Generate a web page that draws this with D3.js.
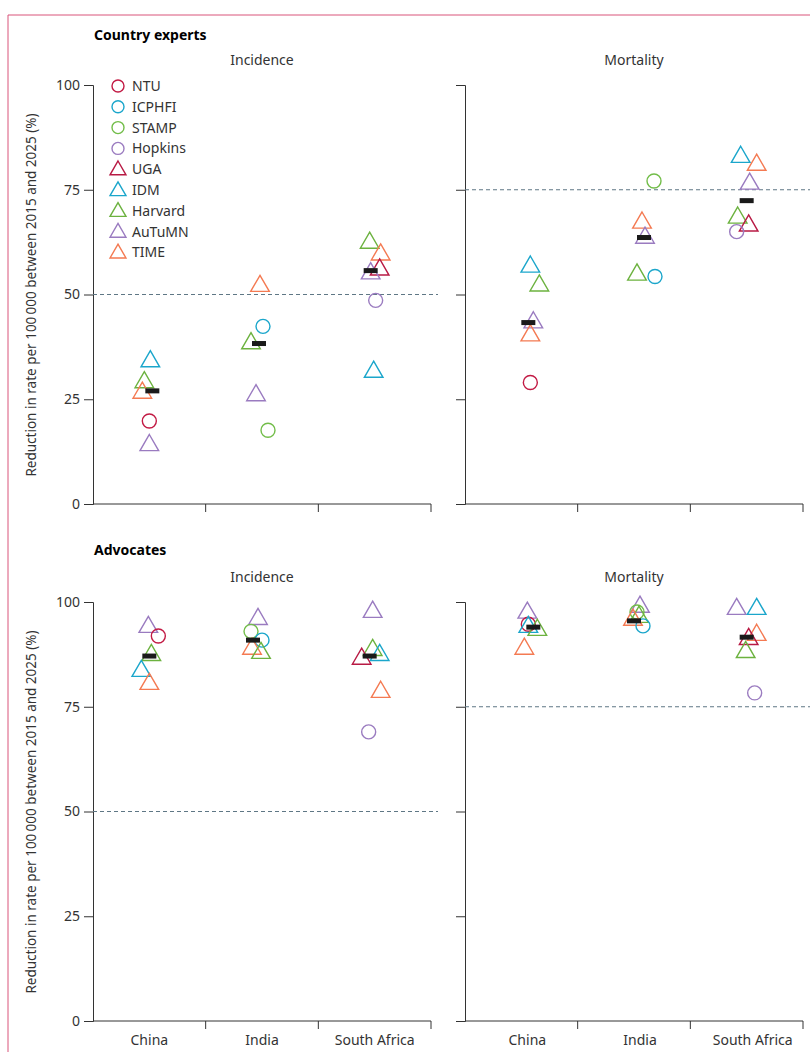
<!DOCTYPE html>
<html><head><meta charset="utf-8">
<script src="https://cdn.jsdelivr.net/npm/d3@7"></script>
<style>body{margin:0;background:#fff}text{font-family:"Noto Sans",sans-serif}</style>
</head><body>
<script>
var countries = ["China", "India", "South Africa"];
var models = ["NTU", "ICPHFI", "STAMP", "Hopkins", "UGA", "IDM", "Harvard", "AuTuMN", "TIME"];
var modelColors = ["#c21a44", "#1ba6cb", "#72bd49", "#9b7cc0", "#b81a44", "#1ba6cb", "#6cb23f", "#9a7bc0", "#f47a52"];
var modelShapes = ["circle", "circle", "circle", "circle", "triangle", "triangle", "triangle", "triangle", "triangle"];

// [model, country, value, jitter(px)]
var expertsIncidence = [
  ["NTU",0,19.8,0],["IDM",0,34.5,1],["Harvard",0,29.5,-5],["TIME",0,27,-7],["AuTuMN",0,14.5,0],
  ["TIME",1,52.5,-2],["ICPHFI",1,42.4,1],["Harvard",1,38.8,-11],["AuTuMN",1,26.4,-6],["STAMP",1,17.6,6],
  ["Harvard",2,62.8,-5],["TIME",2,60,6],["UGA",2,56.4,5],["AuTuMN",2,55.5,-4],["Hopkins",2,48.6,1],["IDM",2,32,-1]
];
var expertsMortality = [
  ["IDM",0,57.1,3],["Harvard",0,52.6,12],["AuTuMN",0,43.8,6],["TIME",0,40.7,3],["NTU",0,29,3],
  ["STAMP",1,77.1,14],["TIME",1,67.6,2],["AuTuMN",1,64,5],["Harvard",1,55.2,-3],["ICPHFI",1,54.3,15],
  ["IDM",2,83.3,-12],["TIME",2,81.4,4],["AuTuMN",2,76.9,-3],["Harvard",2,68.8,-15],["UGA",2,66.9,-4],["Hopkins",2,65,-16]
];
var advocatesIncidence = [
  ["AuTuMN",0,94.5,-1],["NTU",0,91.9,9],["Harvard",0,87.8,2],["IDM",0,84,-8],["TIME",0,80.9,0],
  ["AuTuMN",1,96.4,-4],["STAMP",1,93,-11],["ICPHFI",1,90.9,0],["TIME",1,89.3,-10],["Harvard",1,88.3,-1],
  ["AuTuMN",2,98.1,-2],["Harvard",2,89,-2],["IDM",2,87.8,5],["UGA",2,86.9,-13],["TIME",2,79,6],["Hopkins",2,69,-6]
];
var advocatesMortality = [
  ["AuTuMN",0,97.9,0],["NTU",0,94.7,1],["IDM",0,94.5,1],["Harvard",0,93.8,10],["TIME",0,89.3,-3],
  ["AuTuMN",1,99.3,0],["STAMP",1,97.6,-3],["Harvard",1,96.9,-1],["TIME",1,96.2,-7],["ICPHFI",1,94.3,3],
  ["AuTuMN",2,98.8,-16],["IDM",2,98.8,4],["TIME",2,92.6,4],["UGA",2,91.6,-4],["Harvard",2,88.5,-7],["Hopkins",2,78.3,2]
];
// medians [value, jitter]
var expertsIncidenceMedian = [[27,3],[38.3,-3],[55.7,-4]];
var expertsMortalityMedian = [[43.3,1],[63.6,4],[72.4,-6]];
var advocatesIncidenceMedian = [[87.1,0],[90.9,-9],[87.1,-5]];
var advocatesMortalityMedian = [[94,6],[95.5,-6],[91.6,-6]];
var yTicks = [0, 25, 50, 75, 100];

var svg = d3.select("body").append("svg").attr("width", 810).attr("height", 1052);

// frame
svg.append("path").attr("d", "M8,1052V15H810").attr("fill", "none").attr("stroke", "#d9547a").attr("stroke-width", 1);

var panels = [
  {x0: 93, shift: 0, top: 85, data: expertsIncidence, med: expertsIncidenceMedian, title: "Incidence", target: 50, labels: true, xLabels: false},
  {x0: 465, shift: 6, top: 85, data: expertsMortality, med: expertsMortalityMedian, title: "Mortality", target: 75, labels: false, xLabels: false},
  {x0: 93, shift: 0, top: 602, data: advocatesIncidence, med: advocatesIncidenceMedian, title: "Incidence", target: 50, labels: true, xLabels: true},
  {x0: 465, shift: 6, top: 602, data: advocatesMortality, med: advocatesMortalityMedian, title: "Mortality", target: 75, labels: false, xLabels: true}
];

svg.append("text").attr("x", 94).attr("y", 40).attr("font-size", 14).attr("font-weight", "bold").text("Country experts");
svg.append("text").attr("x", 94).attr("y", 555).attr("font-size", 14).attr("font-weight", "bold").text("Advocates");

var tri = d3.symbol().type(d3.symbolTriangle).size(150);

panels.forEach(function (p) {
  var x = d3.scaleBand().domain(countries).range([p.x0 + p.shift, p.x0 + 338 + p.shift]);
  var y = d3.scaleLinear().domain([0, 100]).range([p.top + 419, p.top]);
  var g = svg.append("g");

  g.append("text").attr("x", p.x0 + 169).attr("y", p.top - 20).attr("text-anchor", "middle")
    .attr("font-size", 14).attr("fill", "#333").text(p.title);

  var yAxis = d3.axisLeft(y).tickValues(yTicks).tickSize(9).tickPadding(4);
  if (!p.labels) yAxis.tickFormat("");
  var ya = g.append("g").attr("transform", "translate(" + p.x0 + ",0)").call(yAxis);
  ya.selectAll("text").attr("font-size", 14).attr("fill", "#333").attr("font-family", "Noto Sans");
  ya.selectAll("line,path").attr("stroke", "#333");

  var xAxis = d3.axisBottom(x).tickSize(0).tickPadding(14);
  if (!p.xLabels) xAxis.tickFormat("");
  var xa = g.append("g").attr("transform", "translate(0," + y(0) + ")").call(xAxis);
  xa.select(".domain").attr("stroke", "#333").attr("d", "M" + p.x0 + ",0H" + (p.x0 + 338));
  xa.selectAll("text").attr("font-size", 14).attr("fill", "#333").attr("font-family", "Noto Sans");
  countries.forEach(function (c, i) {
    var tx = p.x0 + x.bandwidth() * (i + 1);
    g.append("line").attr("x1", tx).attr("x2", tx).attr("y1", y(0)).attr("y2", y(0) + 8).attr("stroke", "#333");
  });

  g.append("line").attr("x1", p.x0).attr("x2", p.x0 + 345).attr("y1", y(p.target)).attr("y2", y(p.target))
    .attr("stroke", "#5f7785").attr("stroke-dasharray", "4,3").attr("stroke-width", 1.2);

  var cx = function (d) { return x(countries[d[1]]) + x.bandwidth() / 2 + d[3]; };
  p.data.forEach(function (d) {
    var mi = models.indexOf(d[0]);
    if (modelShapes[mi] === "circle") {
      g.append("circle").attr("cx", cx(d)).attr("cy", y(d[2])).attr("r", 7)
        .attr("fill", "none").attr("stroke", modelColors[mi]).attr("stroke-width", 1.4);
    } else {
      g.append("path").attr("d", tri).attr("transform", "translate(" + cx(d) + "," + (y(d[2]) + 2) + ")")
        .attr("fill", "none").attr("stroke", modelColors[mi]).attr("stroke-width", 1.4);
    }
  });
  p.med.forEach(function (m, i) {
    g.append("rect").attr("x", x(countries[i]) + x.bandwidth() / 2 + m[1] - 7).attr("y", y(m[0]) - 2.5)
      .attr("width", 14).attr("height", 5).attr("fill", "#1a1a1a");
  });

  if (p.labels) {
    g.append("text").attr("transform", "translate(36," + (p.top + 210) + ") rotate(-90)")
      .attr("text-anchor", "middle").attr("font-size", 13.5).attr("fill", "#333")
      .text("Reduction in rate per 100\u2009000 between 2015 and 2025 (%)");
  }
});

// legend
var leg = svg.append("g").attr("transform", "translate(118,86)");
models.forEach(function (m, i) {
  var row = leg.append("g").attr("transform", "translate(0," + i * 20.8 + ")");
  if (modelShapes[i] === "circle") {
    row.append("circle").attr("r", 6).attr("fill", "none").attr("stroke", modelColors[i]).attr("stroke-width", 1.4);
  } else {
    row.append("path").attr("d", d3.symbol().type(d3.symbolTriangle).size(110)).attr("transform", "translate(0,1)")
      .attr("fill", "none").attr("stroke", modelColors[i]).attr("stroke-width", 1.4);
  }
  row.append("text").attr("x", 14).attr("y", 5).attr("font-size", 14).attr("fill", "#333").text(m);
});
</script>
</body></html>
